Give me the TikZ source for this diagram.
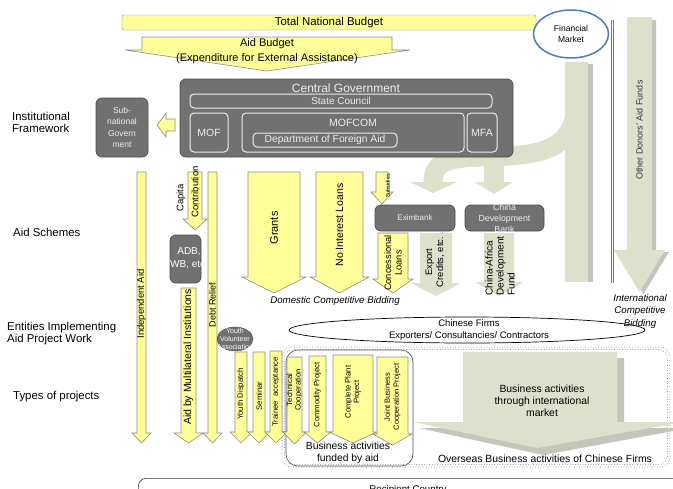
\documentclass[tikz,border=0pt]{standalone}
\usepackage{fontspec}
\setmainfont{Liberation Sans}
\usetikzlibrary{shapes.geometric}
\usetikzlibrary{positioning}

\definecolor{arryellow}{HTML}{FFFF99}
\definecolor{arredge}{HTML}{8C8C8C}
\definecolor{palegreen}{HTML}{DDE0CB}
\definecolor{paleshadow}{HTML}{C4C6BC}
\definecolor{boxgray}{HTML}{717171}
\definecolor{boxedge}{HTML}{4D4D4D}
\definecolor{boxtext}{HTML}{EDEDED}
\definecolor{mktblue}{HTML}{4A7EBB}

% block arrow pointing down: [style]{x left}{x right}{y top}{y neck}{y tip}{head extension}
\newcommand{\blockarrow}[7][yarr]{%
  \filldraw[#1] (#2,#4) -- (#3,#4) -- (#3,#5) -- ({#3+#7},#5) -- ({(#2+#3)/2},#6) -- ({#2-#7},#5) -- (#2,#5) -- cycle;}

\tikzset{
  yarr/.style={fill=arryellow, draw=arredge, line width=0.6pt},
  garr/.style={fill=palegreen, draw=none},
  gshadow/.style={fill=paleshadow, draw=none},
  darkbox/.style={fill=boxgray, draw=boxedge, line width=0.8pt, rounded corners=6pt},
  innerbox/.style={draw=boxtext, line width=1pt, rounded corners=4pt, text=boxtext, inner sep=0pt},
  rowlabel/.style={anchor=west, align=left, inner sep=0pt, font=\fontsize{11.4}{12.5}\selectfont},
  uptext/.style={rotate=90, inner sep=0pt, align=center, font=\fontsize{9.5}{10.5}\selectfont},
  uptiny/.style={rotate=90, inner sep=0pt, align=center, font=\fontsize{7.7}{8.5}\selectfont},
}

\begin{document}
\begin{tikzpicture}[x=1pt, y=-1pt]
\useasboundingbox (0,0) rectangle (673,488);
\clip (0,0) rectangle (673,488);

% funds from the market
\fill[gshadow] (588,64) rectangle (593,282);
\fill[garr] (565,62) rectangle (588,282);
\draw[palegreen, line width=19pt] (576,100) .. controls (576,152) and (540,156) .. (480,157) .. controls (445,158) and (433,163) .. (433,183);
\draw[palegreen, line width=20pt] (494,150) -- (494,183);
\fill[garr] (410,182) -- (457,182) -- (433,193) -- cycle;
\fill[garr] (475,182) -- (513,182) -- (494,194) -- cycle;

\blockarrow[gshadow]{631}{656}{20}{252}{294}{13}
\blockarrow[garr]{627}{652}{17}{250}{292}{13}
\node[uptext, font=\fontsize{9}{10}\selectfont, text=black!80] (donors) at (639.5,130) {Other Donors' Aid Funds};

\blockarrow[garr]{420}{452}{233}{283}{296}{9}
\blockarrow[garr]{484}{514}{233}{282}{296}{9}

\draw[mktblue, line width=0.5pt, double=white, double distance=1.5pt] (612.5,20) -- (612.5,283);

% budget
\node[draw=arredge, fill=arryellow, rounded corners=2pt, minimum width=414pt, minimum height=15pt, inner sep=0pt, font=\fontsize{11.4}{12}\selectfont] (budget) at (329,22.5) {Total National Budget};
\filldraw[yarr] (142,37) -- (392,37) -- (392,50) -- (410,50) -- (267,71) -- (125,50) -- (142,50) -- cycle;
\node[inner sep=0pt, align=center, font=\fontsize{11}{15}\selectfont] (aidbudget) at (267,51.5) {Aid Budget\\(Expenditure for External Assistance)};

\node[ellipse, draw=mktblue, line width=1.5pt, fill=white, minimum width=75pt, minimum height=48pt, inner sep=0pt, align=center, font=\fontsize{8.5}{11}\selectfont] (market) at (571,34) {Financial\\Market};

% institutions
\node[darkbox, minimum width=333pt, minimum height=78pt] (centgov) at (346.5,118) {};
\node[text=boxtext, inner sep=0pt, font=\fontsize{12}{12}\selectfont] (centgovtxt) at (346,88) {Central Government};
\node[innerbox, minimum width=302pt, minimum height=14pt, font=\fontsize{10}{10}\selectfont] (council) at (341,101) {State Council};
\node[innerbox, minimum width=38pt, minimum height=39pt, font=\fontsize{10.5}{10.5}\selectfont] (mof) at (209,132.5) {MOF};
\node[innerbox, minimum width=222pt, minimum height=39pt] (mofcom) at (353,132.5) {};
\node[text=boxtext, inner sep=0pt, font=\fontsize{10.5}{10.5}\selectfont] (mofcomtxt) at (353,123) {MOFCOM};
\node[innerbox, minimum width=144pt, minimum height=14pt, font=\fontsize{10.3}{10.3}\selectfont] (dfa) at (325,140) {Department of Foreign Aid};
\node[innerbox, minimum width=30pt, minimum height=39pt, font=\fontsize{10.5}{10.5}\selectfont] (mfa) at (482,132.5) {MFA};

\node[darkbox, minimum width=52pt, minimum height=59pt, text=boxtext, align=center, inner sep=0pt, font=\fontsize{8.5}{11.5}\selectfont] (subnat) at (122,127.5) {Sub-\\national\\Govern\\ment};
\filldraw[yarr] (175,119) -- (166,119) -- (166,113) -- (157,125) -- (166,137) -- (166,131) -- (175,131) -- cycle;

% row labels
\node[rowlabel] (lblinst) at (12,122.5) {Institutional\\Framework};
\node[rowlabel] (lblaid) at (13,232) {Aid Schemes};
\node[rowlabel] (lblent) at (7,333.5) {Entities Implementing\\Aid Project Work};
\node[rowlabel] (lbltypes) at (13,397) {Types of projects};

% aid schemes
\blockarrow{137}{146}{172}{433}{443}{5}
\node[uptext] (indep) at (141.5,304) {Independent Aid};

\blockarrow{188}{202}{172}{219}{230}{5}
\node[uptext] (capita) at (181,198) {Capita};
\node[uptext] (contrib) at (195,192) {Contribution};

\node[darkbox, minimum width=31pt, minimum height=48pt] (adb) at (185.5,259) {};
\node[text=white, align=center, inner sep=0pt, font=\fontsize{10}{13}\selectfont] (adbtxt) at (189,258.5) {ADB,\\WB, etc.};

\blockarrow{181}{196}{288}{433}{443}{7}
\node[uptext, font=\fontsize{10.5}{11}\selectfont] (multi) at (188.5,357) {Aid by Multilateral Institutions};

\blockarrow{208}{217}{172}{433}{443}{5}
\node[uptext, font=\fontsize{9}{10}\selectfont] (debt) at (212.5,305) {Debt Relief};

\blockarrow{248}{300}{172}{277}{293}{6}
\node[uptext, font=\fontsize{11}{12}\selectfont] (grants) at (274,228) {Grants};

\blockarrow{316}{363}{172}{277}{293}{6}
\node[uptext, font=\fontsize{10.5}{11}\selectfont] (noint) at (339.5,225) {No Interest Loans};

\node[inner sep=0pt, font=\itshape\fontsize{9.7}{10}\selectfont] (domestic) at (335,301) {Domestic Competitive Bidding};

\blockarrow{376}{388}{172}{192}{204}{5}
\node[uptext, font=\fontsize{5.5}{6}\selectfont] (subsid) at (388,186) {Subsidies};

\node[darkbox, minimum width=80pt, minimum height=26pt, text=boxtext, font=\fontsize{8}{8}\selectfont] (exim) at (415,218) {Eximbank};
\node[darkbox, minimum width=79pt, minimum height=26pt] (cdb) at (504.5,218) {};
\node[text=boxtext, align=center, inner sep=0pt, font=\fontsize{8.8}{11}\selectfont] (cdbtxt) at (504.5,218) {China\\Development\\Bank};

\blockarrow{378}{408}{233}{279}{293}{5}
\node[uptext, font=\fontsize{9.3}{10.5}\selectfont] (concess) at (393,263) {Concessional\\Loans};
\node[uptext, font=\fontsize{9.4}{11}\selectfont] (export) at (435,262) {Export\\Credits, etc.};
\node[uptext, align=left, font=\fontsize{10}{11}\selectfont] (cadf) at (500,266) {China-Africa\\Development\\Fund};

\node[inner sep=0pt, align=center, font=\itshape\fontsize{9.7}{12.5}\selectfont] (intl) at (640,311) {International\\Competitive\\Bidding};

% implementing entities
\node[ellipse, draw=black, line width=0.7pt, minimum width=356pt, minimum height=26pt, inner sep=0pt] (firms) at (467,330) {};
\node[inner sep=0pt, align=center, font=\fontsize{9.5}{11.5}\selectfont] (firmstxt) at (469,330) {Chinese Firms\\Exporters/ Consultancies/ Contractors};

% overseas business
\draw[gray, dotted, line width=0.6pt, rounded corners=10pt] (282,347) rectangle (670,467);
\draw[gray, dotted, line width=0.6pt, rounded corners=9pt] (284.5,349.5) rectangle (667.5,464.5);
\fill[paleshadow] (469,358) -- (624,358) -- (624,428) -- (690,428) -- (543,455) -- (419,428) -- (469,428) -- cycle;
\fill[palegreen] (463,352) -- (617,352) -- (617,422) -- (684,422) -- (537,448) -- (413,422) -- (463,422) -- cycle;
\node[inner sep=0pt, align=center, font=\fontsize{10.4}{12}\selectfont] (intlbiz) at (542,401) {Business activities\\through international\\market};
\node[inner sep=0pt, font=\fontsize{10.4}{12}\selectfont] (overseas) at (545,459) {Overseas Business activities of Chinese Firms};

\node[draw=black!70, line width=0.6pt, rounded corners=12pt, minimum width=127pt, minimum height=116pt] (aidbiz) at (349.5,408) {};
\node[inner sep=0pt, align=center, font=\fontsize{10.3}{12}\selectfont] (aidbiztxt) at (348,453) {Business activities\\funded by aid};

% types of projects
\node[ellipse, fill=boxgray, draw=boxedge, minimum width=36pt, minimum height=24pt, inner sep=0pt] (yva) at (235,339) {};
\node[text=white, align=center, inner sep=0pt, font=\fontsize{7}{8}\selectfont] (yvatxt) at (235,339) {Youth\\Volunteer\\Association};

\blockarrow{235}{247}{352}{432}{443}{5}
\node[uptiny] (youth) at (241,394) {Youth Dispatch};
\blockarrow{253}{265}{352}{432}{443}{5}
\node[uptiny] (seminar) at (259,396) {Seminar};
\blockarrow{270}{282}{351}{432}{443}{5}
\node[uptiny] (trainee) at (276,392) {Trainee\ \ acceptance};
\blockarrow{287}{302}{357}{432}{444}{4}
\node[uptiny] (techcoop) at (294.5,390) {Technical\\Cooperation};
\blockarrow{309}{326}{356}{432}{443}{5}
\node[uptiny] (commod) at (317.5,395) {Commodity Project};
\blockarrow{333}{373}{355}{432}{443}{4}
\node[uptiny] (plant) at (353,392) {Complete Plant\\Project};
\blockarrow{377}{408}{357}{434}{445}{4}
\node[uptiny, font=\fontsize{7.5}{9}\selectfont] (joint) at (392.5,397) {Joint Business\\Cooperation Project};

% recipient
\node[draw=black!80, line width=0.6pt, rounded corners=8pt, minimum width=600pt, minimum height=40pt, anchor=north west] (recip) at (138,478) {};
\node[inner sep=0pt, font=\fontsize{9.7}{10}\selectfont] (reciptxt) at (408,490) {Recipient Country};
\end{tikzpicture}
\end{document}
